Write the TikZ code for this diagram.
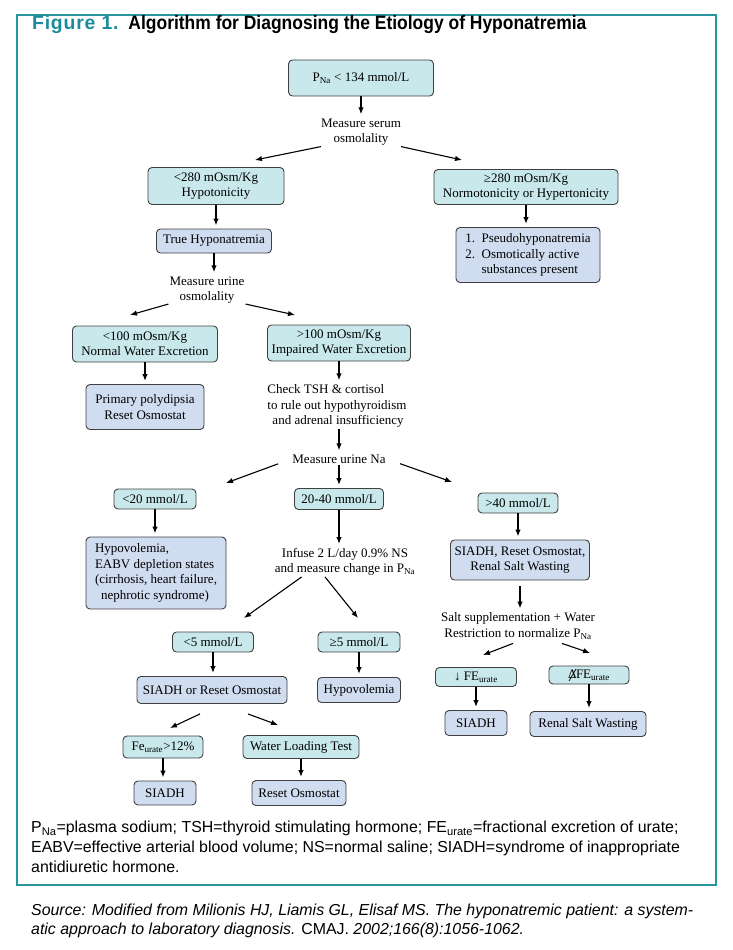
\documentclass[tikz,border=0pt]{standalone}
\usepackage{fontspec}
\setmainfont{Liberation Serif}
\newfontfamily\figfont[LetterSpace=4]{Liberation Sans}
\newfontfamily\titlefont[FakeStretch=0.9]{Liberation Sans}
\newfontfamily\notefont{Liberation Sans}
\usetikzlibrary{arrows.meta}

\definecolor{frameteal}{RGB}{40,150,160}
\definecolor{titleteal}{RGB}{25,140,155}
\definecolor{boxcyan}{RGB}{200,232,236}
\definecolor{boxlav}{RGB}{208,220,240}

\tikzset{
  cbox/.style={draw=black!75,fill=boxcyan,rounded corners=4pt,line width=0.9pt,
    align=center,inner sep=1pt},
  lbox/.style={cbox,fill=boxlav},
  plain/.style={align=center,inner sep=1pt},
  arr/.style={-{Latex[length=7pt,width=5.5pt]},line width=1.1pt},
  varr/.style={arr,line width=1.6pt,shorten >=3pt},
}
\newcommand{\Na}{\textsubscript{Na}}
\newcommand{\ur}{\textsubscript{urate}}

\begin{document}
\begin{tikzpicture}[x=1pt,y=-1pt,font=\fontsize{13}{15.5}\selectfont]
\useasboundingbox (0,0) rectangle (733,950);

% Outer frame and title
\draw[frameteal,line width=1.1pt] (17,15) rectangle (716,885);
\node[anchor=base west,inner sep=0pt,font=\bfseries\fontsize{19.4}{22}\selectfont] (title) at (32,30)
{\figfont\textcolor{titleteal}{Figure 1.}\hspace{10pt}\titlefont Algorithm for Diagnosing the Etiology of Hyponatremia};

% Top of the tree
\node[cbox,minimum width=145pt,minimum height=36pt] (pna) at (361,78) {P\Na{} < 134 mmol/L};
\node[plain] (serum) at (361,132) {Measure serum\\osmolality};
\node[cbox,minimum width=136pt,minimum height=37pt] (hypo) at (216,186) {<280 mOsm/Kg\\Hypotonicity};
\node[cbox,minimum width=184pt,minimum height=35pt] (normo) at (526,187) {≥280 mOsm/Kg\\Normotonicity or Hypertonicity};
\node[lbox,minimum width=115pt,minimum height=24pt] (trueh) at (214,241) {True Hyponatremia};
\node[lbox,minimum width=144pt,minimum height=55pt,align=left] (pseudo) at (528,255)
{1.\ \ Pseudohyponatremia\\2.\ \ Osmotically active\\\phantom{2.\ \ }substances present};

\coordinate (serumL) at (255,160);
\coordinate (serumR) at (462,160);
\draw[varr] (pna) -- (serum);
\draw[arr] (serum.200) -- (serumL);
\draw[arr] (serum.-20) -- (serumR);
\draw[varr] (hypo.south) -- (hypo.south |- trueh.north);
\draw[varr] (normo.south) -- (normo.south |- pseudo.north);

% Urine osmolality
\node[plain] (uosm) at (207,290) {Measure urine\\osmolality};
\node[cbox,minimum width=145pt,minimum height=36pt] (normal) at (145,344) {<100 mOsm/Kg\\Normal Water Excretion};
\node[cbox,minimum width=143pt,minimum height=36pt] (impair) at (339,343) {>100 mOsm/Kg\\Impaired Water Excretion};
\node[lbox,minimum width=118pt,minimum height=45pt] (polyd) at (145,407) {Primary polydipsia\\Reset Osmostat};
\node[plain,align=left] (tsh) at (337,406)
{Check TSH \& cortisol\\to rule out hypothyroidism\\\hspace{5pt}and adrenal insufficiency};

\coordinate (uosmL) at (130,315);
\coordinate (uosmR) at (295,315);
\draw[varr] (trueh.south) -- (trueh.south |- uosm.north);
\draw[arr] (uosm.200) -- (uosmL);
\draw[arr] (uosm.-20) -- (uosmR);
\draw[varr] (normal) -- (polyd);
\draw[varr] (impair.south) -- (impair.south |- tsh.north);

% Urine sodium
\node[plain] (una) at (339,459) {Measure urine Na};
\node[cbox,minimum width=82pt,minimum height=20pt] (lt20) at (155,499) {<20 mmol/L};
\node[cbox,minimum width=89pt,minimum height=21pt] (mid) at (339,499) {20-40 mmol/L};
\node[cbox,minimum width=80pt,minimum height=20pt] (gt40) at (518,503) {>40 mmol/L};
\node[lbox,minimum width=140pt,minimum height=72pt,align=left] (hvol) at (156,573)
{Hypovolemia,\\EABV depletion states\\(cirrhosis, heart failure,\\\hspace{6pt}nephrotic syndrome)};
\node[plain] (infuse) at (345,562) {Infuse 2 L/day 0.9\% NS\\and measure change in P\Na};
\node[lbox,minimum width=139pt,minimum height=40pt] (sarsw) at (520,560)
{SIADH, Reset Osmostat,\\Renal Salt Wasting};

\coordinate (unaL) at (226,483);
\coordinate (unaR) at (452,482);
\draw[varr] (una.north |- tsh.south) -- (una);
\draw[arr,shorten <=14pt] (una.west) -- (unaL);
\draw[varr] (una) -- (mid);
\draw[arr,shorten <=14pt] (una.east) -- (unaR);
\draw[varr] (lt20.south) -- (lt20.south |- hvol.north);
\draw[varr] (mid.south) -- (mid.south |- infuse.north);
\draw[varr] (gt40.south) -- (gt40.south |- sarsw.north);

% Saline infusion branch
\node[cbox,minimum width=81pt,minimum height=20pt] (lt5) at (213,642) {<5 mmol/L};
\node[cbox,minimum width=82pt,minimum height=20pt] (ge5) at (359,642) {≥5 mmol/L};
\node[lbox,minimum width=150pt,minimum height=27pt] (sors) at (212,690) {SIADH or Reset Osmostat};
\node[lbox,minimum width=83pt,minimum height=25pt] (hvol2) at (359,690) {Hypovolemia};
\node[cbox,minimum width=80pt,minimum height=22pt] (fe12) at (163,747) {Fe\ur>12\%};
\node[cbox,minimum width=116pt,minimum height=23pt] (wlt) at (301,747) {Water Loading Test};
\node[lbox,minimum width=62pt,minimum height=24pt] (siadhA) at (165,793) {SIADH};
\node[lbox,minimum width=94pt,minimum height=25pt] (reset) at (299,793) {Reset Osmostat};

\coordinate (infL) at (244,618);
\coordinate (infR) at (358,618);
\coordinate (sorsL) at (170,728);
\coordinate (sorsR) at (278,725);
\draw[arr] (infuse.south west) ++(28,0) coordinate (infLs) (infLs) -- (infL);
\draw[arr] (infuse.south) ++(-20,0) coordinate (infRs) (infRs) -- (infR);
\draw[varr] (lt5.south) -- (lt5.south |- sors.north);
\draw[varr] (ge5) -- (hvol2);
\draw[arr] (sors.south) ++(-12,10) coordinate (sorsLs) (sorsLs) -- (sorsL);
\draw[arr] (sors.south) ++(36,10) coordinate (sorsRs) (sorsRs) -- (sorsR);
\draw[varr] (fe12.south) -- (fe12.south |- siadhA.north);
\draw[varr] (wlt.south) -- (wlt.south |- reset.north);

% Salt supplementation branch
\node[plain] (salt) at (518,626) {Salt supplementation + Water\\Restriction to normalize P\Na};
\node[cbox,minimum width=81pt,minimum height=19pt] (fedown) at (476,677) {↓ FE\ur};
\node[cbox,minimum width=80pt,minimum height=18pt] (fenone) at (589,675) {Δ\hspace{-0.5pt}FE\ur};
\draw[line width=0.7pt] (fenone.center) ++(-20,6) -- ++(7,-12);
\node[lbox,minimum width=62pt,minimum height=25pt] (siadhB) at (476,723) {SIADH};
\node[lbox,minimum width=116pt,minimum height=25pt] (rsw) at (588,724) {Renal Salt Wasting};

\coordinate (saltL) at (483,655);
\coordinate (saltR) at (590,653);
\draw[varr,shorten <=6pt] (sarsw.south) -- (sarsw.south |- salt.north);
\draw[arr] (salt.south) ++(-5,3) coordinate (saltLs) (saltLs) -- (saltL);
\draw[arr] (salt.south) ++(44,3) coordinate (saltRs) (saltRs) -- (saltR);
\draw[varr] (fedown) -- (siadhB);
\draw[varr] (fenone.south) -- (fenone.south |- rsw.north);

% Abbreviations and source
\node[anchor=north west,align=left,inner sep=0pt,
  font=\notefont\fontsize{15.9}{19.8}\selectfont] (abbr) at (31,821)
{P\textsubscript{Na}=plasma sodium; TSH=thyroid stimulating hormone; FE\textsubscript{urate}=fractional excretion of urate;\\
EABV=effective arterial blood volume; NS=normal saline; SIADH=syndrome of inappropriate\\
antidiuretic hormone.};
\node[anchor=north west,align=left,inner sep=0pt,
  font=\notefont\fontsize{15.9}{18.5}\selectfont] (source) at (31,904)
{\itshape Source: Modified from Milionis HJ, Liamis GL, Elisaf MS. The hyponatremic patient: a system-\\
\itshape atic approach to laboratory diagnosis. \upshape CMAJ. \itshape 2002;166(8):1056-1062.};

\end{tikzpicture}
\end{document}
